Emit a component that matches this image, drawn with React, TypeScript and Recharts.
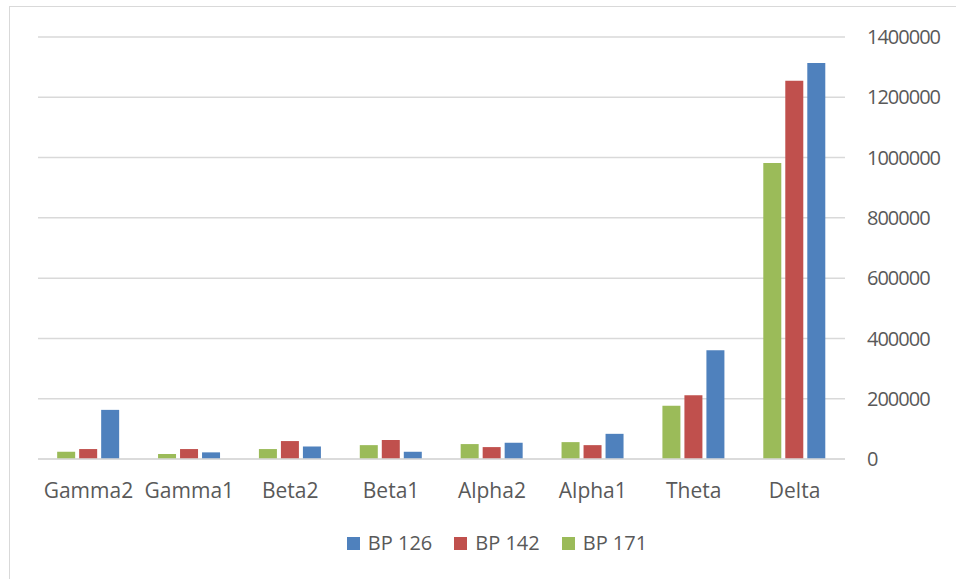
import React from "react";
import { BarChart, Bar, XAxis, YAxis, CartesianGrid, Legend } from "recharts";

const categories = ["Gamma2", "Gamma1", "Beta2", "Beta1", "Alpha2", "Alpha1", "Theta", "Delta"];
const bp126 = [163000, 22000, 41500, 24000, 54000, 83500, 361000, 1314000];
const bp142 = [33000, 33000, 59500, 63000, 39500, 46000, 211500, 1254500];
const bp171 = [24000, 16500, 33000, 46000, 49500, 56000, 177000, 982000];
const yTicks = [0, 200000, 400000, 600000, 800000, 1000000, 1200000, 1400000];
const legendOrder = ["BP 126", "BP 142", "BP 171"];

const data = categories.map((c, i) => ({
  name: c,
  bp126: bp126[i],
  bp142: bp142[i],
  bp171: bp171[i],
}));

const FONT = "'Open Sans', sans-serif";
const TEXT = "#595959";

const renderLegend = (props: any) => {
  const payload = [...(props.payload || [])].sort(
    (a: any, b: any) => legendOrder.indexOf(a.value) - legendOrder.indexOf(b.value)
  );
  return (
    <div style={{ display: "flex", justifyContent: "center", alignItems: "center", height: 40, fontFamily: FONT }}>
      {payload.map((p: any, i: number) => (
        <div key={i} style={{ display: "flex", alignItems: "center", marginLeft: i === 0 ? 0 : 22 }}>
          <div style={{ width: 13, height: 13, background: p.color, marginRight: 8 }} />
          <span style={{ fontSize: 20, color: TEXT, lineHeight: "20px" }}>{p.value}</span>
        </div>
      ))}
    </div>
  );
};

export default function App() {
  return (
    <div style={{ position: "absolute", left: 0, top: 0, width: 956, height: 579, overflow: "hidden", background: "#fff" }}>
      <div
        style={{
          position: "absolute",
          left: 8.5,
          top: 6,
          width: 1000,
          height: 700,
          border: "1.5px solid #D9D9D9",
          boxSizing: "border-box",
        }}
      />
      <div style={{ position: "absolute", left: 0, top: 0 }}>
        <BarChart
          width={956}
          height={579}
          data={data}
          margin={{ top: 37, right: 0, left: 38, bottom: 16 }}
          barCategoryGap="19%"
          barGap={4}
          style={{ fontFamily: FONT }}
        >
          <CartesianGrid vertical={false} stroke="#D9D9D9" strokeWidth={1.5} />
          <XAxis
            dataKey="name"
            height={64}
            tickLine={false}
            axisLine={{ stroke: "#D9D9D9", strokeWidth: 1.5 }}
            tickMargin={18}
            tick={{ fill: TEXT, fontSize: 21, fontFamily: FONT }}
            interval={0}
          />
          <YAxis
            orientation="right"
            width={111}
            domain={[0, 1400000]}
            ticks={yTicks}
            tickLine={false}
            axisLine={false}
            tickMargin={16}
            tick={{ fill: TEXT, fontSize: 20, fontFamily: FONT, letterSpacing: -1 }}
            interval={0}
          />
          <Legend verticalAlign="bottom" height={40} content={renderLegend} />
          <Bar dataKey="bp171" name="BP 171" fill="#9BBB59" isAnimationActive={false} />
          <Bar dataKey="bp142" name="BP 142" fill="#C0504D" isAnimationActive={false} />
          <Bar dataKey="bp126" name="BP 126" fill="#4F81BD" isAnimationActive={false} />
        </BarChart>
      </div>
    </div>
  );
}
